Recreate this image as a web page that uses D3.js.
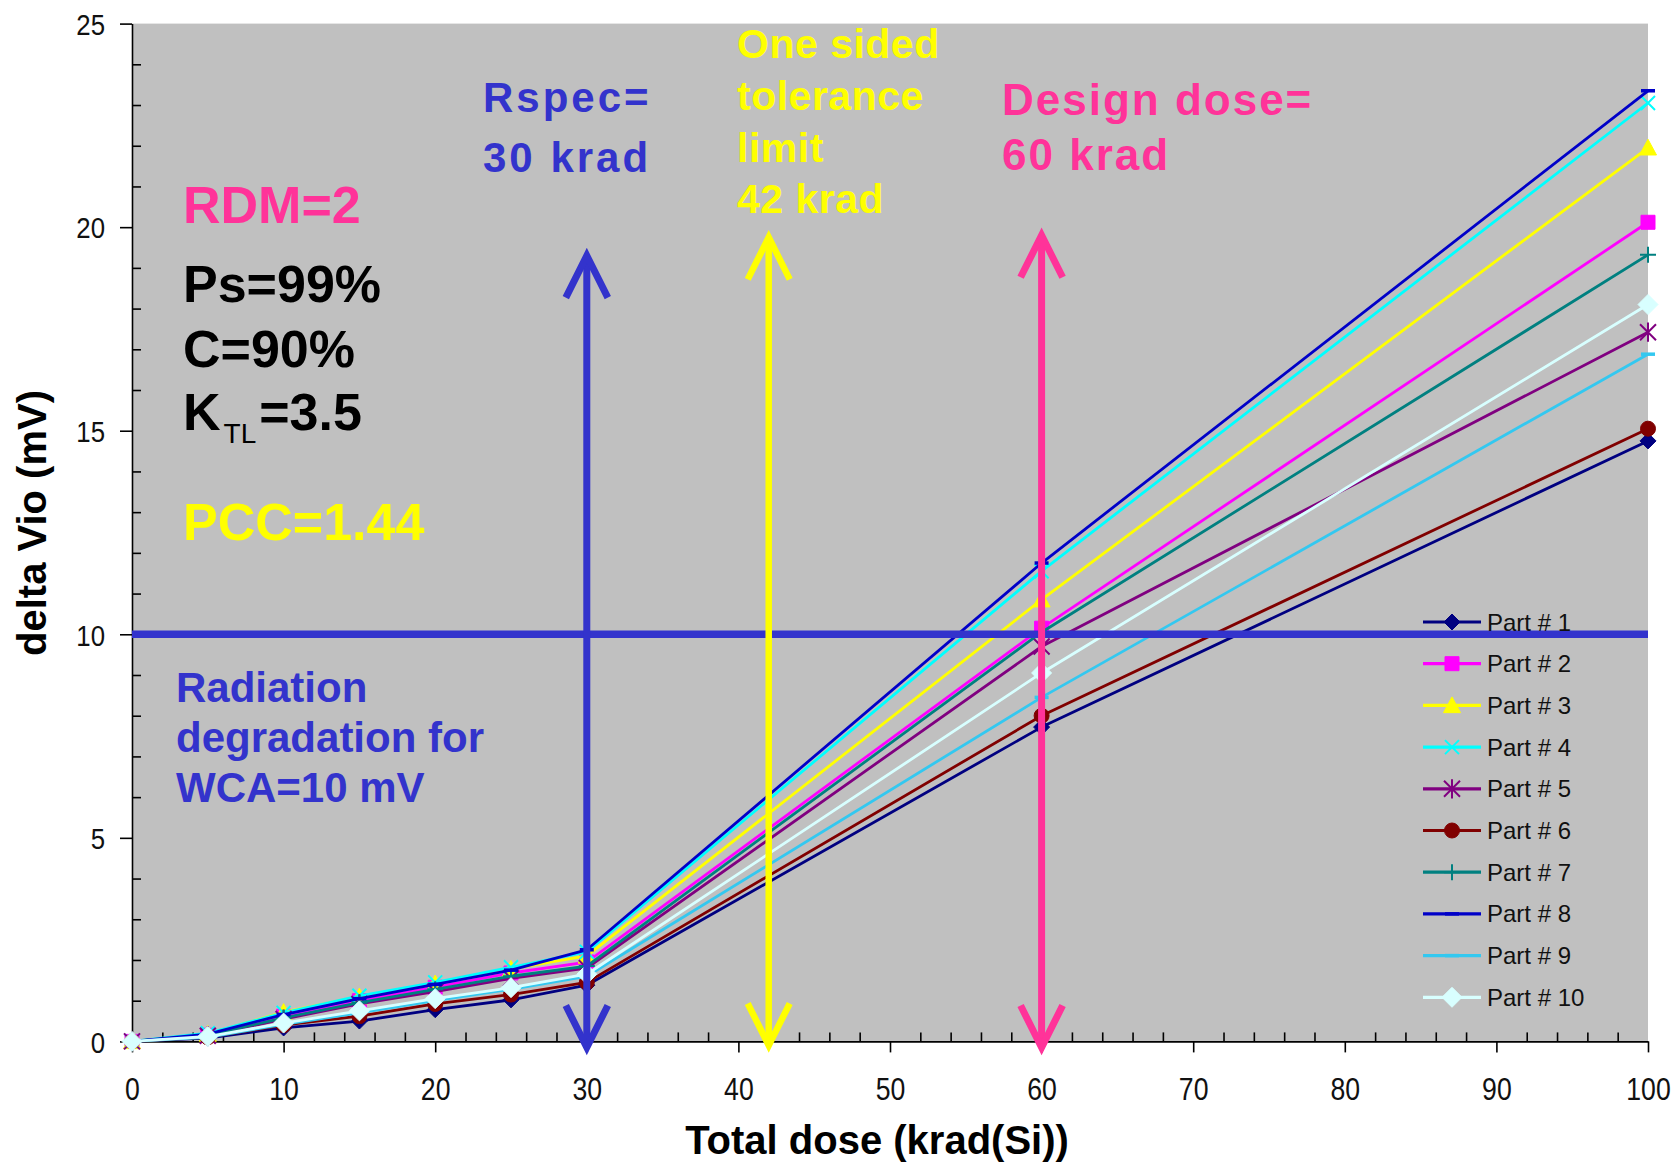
<!DOCTYPE html>
<html>
<head>
<meta charset="utf-8">
<script src="https://cdn.jsdelivr.net/npm/d3@7"></script>
<style>
  html, body { margin: 0; padding: 0; background: #fff; }
  svg { display: block; }
  text { font-family: "Liberation Sans", Arial, Helvetica, sans-serif; }
</style>
</head>
<body>
<svg id="chart" width="1680" height="1168"></svg>
<script>
// Total dose steps, krad(Si)
const doses = [0, 5, 10, 15, 20, 25, 30, 60, 100];

// delta Vio (mV) per part at each dose step
const part1  = [0, 0.08, 0.33, 0.50, 0.78, 1.02, 1.38, 7.72, 14.75];
const part2  = [0, 0.15, 0.62, 1.00, 1.33, 1.68, 1.95, 10.15, 20.12];
const part3  = [0, 0.18, 0.72, 1.10, 1.42, 1.78, 2.10, 10.85, 21.95];
const part4  = [0, 0.20, 0.70, 1.12, 1.45, 1.82, 2.20, 11.55, 23.05];
const part5  = [0, 0.14, 0.55, 0.92, 1.22, 1.55, 1.80, 9.70, 17.42];
const part6  = [0, 0.10, 0.40, 0.62, 0.92, 1.15, 1.45, 8.00, 15.05];
const part7  = [0, 0.15, 0.58, 0.95, 1.28, 1.60, 1.85, 10.05, 19.32];
const part8  = [0, 0.18, 0.66, 1.05, 1.40, 1.75, 2.25, 11.75, 23.35];
const part9  = [0, 0.10, 0.42, 0.70, 1.00, 1.28, 1.60, 8.45, 16.88];
const part10 = [0, 0.12, 0.45, 0.75, 1.05, 1.32, 1.65, 9.05, 18.10];

const partNames = ["Part # 1", "Part # 2", "Part # 3", "Part # 4", "Part # 5",
                   "Part # 6", "Part # 7", "Part # 8", "Part # 9", "Part # 10"];
const partValues = [part1, part2, part3, part4, part5, part6, part7, part8, part9, part10];

// Axis ticks
const xTicks = [0, 10, 20, 30, 40, 50, 60, 70, 80, 90, 100];
const yTicks = [0, 5, 10, 15, 20, 25];

// Reference levels
const wcaLevel = 10;        // mV
const rspecDose = 30;       // krad
const toleranceDose = 42;   // krad
const designDose = 60;      // krad

// Annotation text
const rspecLines = ["Rspec=", "30 krad"];
const toleranceLines = ["One sided", "tolerance", "limit", "42 krad"];
const designLines = ["Design dose=", "60 krad"];
const wcaLines = ["Radiation", "degradation for", "WCA=10 mV"];

// ---- styles ----
const partColors = ["#000080", "#ff00ff", "#ffff00", "#00ffff", "#800080",
                    "#800000", "#008080", "#0000c8", "#33c8f0", "#d8ffff"];
const partMarkers = ["diamond", "square", "triangle", "x", "star",
                     "circle", "plus", "dash", "dash", "diamond"];
const markerSize = [8, 7, 8.5, 7, 8, 7.5, 8, 7, 7, 10];

const BLUE = "#3333cc", PINK = "#ff3399", YELLOW = "#ffff00";
const TICK_SQUEEZE = 0.86;   // tick labels are set slightly condensed

const svg = d3.select("#chart");
const plot = { left: 132, right: 1648, top: 23.6, bottom: 1041.4 };

const x = d3.scaleLinear().domain([0, 100]).range([plot.left, plot.right]);
const y = d3.scaleLinear().domain([0, 25]).range([plot.bottom, plot.top]);

// plot area
svg.append("rect")
  .attr("x", plot.left).attr("y", plot.top)
  .attr("width", plot.right - plot.left).attr("height", plot.bottom - plot.top)
  .attr("fill", "#c0c0c0");

// ---- axes ----
const axisStyle = g => {
  g.selectAll("path.domain").attr("stroke", "#000").attr("stroke-width", 1.6);
  g.selectAll(".tick line").attr("stroke", "#000").attr("stroke-width", 1.6);
};

// minor ticks point inward
const xMinor = d3.range(0, 101, 2).filter(v => v % 10 !== 0);
svg.append("g")
  .attr("transform", `translate(0,${plot.bottom})`)
  .call(d3.axisBottom(x).tickValues(xMinor).tickSize(-9).tickFormat(""))
  .call(g => g.select("path.domain").remove())
  .call(axisStyle);

const yMinor = d3.range(0, 26, 1).filter(v => v % 5 !== 0);
svg.append("g")
  .attr("transform", `translate(${plot.left},0)`)
  .call(d3.axisLeft(y).tickValues(yMinor).tickSize(-9).tickFormat(""))
  .call(g => g.select("path.domain").remove())
  .call(axisStyle);

const xAxis = svg.append("g")
  .attr("transform", `translate(0,${plot.bottom})`)
  .call(d3.axisBottom(x).tickValues(xTicks).tickSizeInner(11).tickSizeOuter(0))
  .call(axisStyle);
xAxis.selectAll("text")
  .attr("y", 59).attr("dy", 0)
  .attr("transform", `scale(${TICK_SQUEEZE},1)`)
  .attr("font-size", 31).attr("fill", "#111")
  .style("font-family", "'Liberation Sans', Arial, sans-serif");

const yAxis = svg.append("g")
  .attr("transform", `translate(${plot.left},0)`)
  .call(d3.axisLeft(y).tickValues(yTicks).tickSizeInner(12).tickSizeOuter(0))
  .call(axisStyle);
yAxis.selectAll("text")
  .attr("x", -27 / TICK_SQUEEZE).attr("dy", "0.36em")
  .attr("transform", `scale(${TICK_SQUEEZE},1)`)
  .attr("font-size", 30).attr("fill", "#111")
  .style("font-family", "'Liberation Sans', Arial, sans-serif");

// ---- series ----
function markerPath(type, r) {
  switch (type) {
    case "diamond":  return `M0,${-r}L${r},0L0,${r}L${-r},0Z`;
    case "square":   return `M${-r},${-r}h${2 * r}v${2 * r}h${-2 * r}Z`;
    case "triangle": return `M0,${-r}L${r},${r * 0.85}L${-r},${r * 0.85}Z`;
    case "circle":   return d3.symbol(d3.symbolCircle, Math.PI * r * r)();
    case "x":        return `M${-r},${-r}L${r},${r}M${-r},${r}L${r},${-r}`;
    case "star":     return `M${-r},${-r}L${r},${r}M${-r},${r}L${r},${-r}M0,${-r * 1.2}V${r * 1.2}`;
    case "plus":     return `M${-r},0H${r}M0,${-r}V${r}`;
    case "dash":     return `M${-r},0H${r}`;
  }
}
const filledMarkers = new Set(["diamond", "square", "triangle", "circle"]);
function styleMarker(sel, i) {
  const filled = filledMarkers.has(partMarkers[i]);
  sel.attr("d", markerPath(partMarkers[i], markerSize[i]))
    .attr("fill", filled ? partColors[i] : "none")
    .attr("stroke", partColors[i])
    .attr("stroke-width", filled ? 1 : (partMarkers[i] === "dash" ? 3.5 : 2));
}

const line = d3.line().x(d => x(d.dose)).y(d => y(d.value));
const series = partValues.map((vals, i) => ({
  name: partNames[i],
  points: doses.map((d, k) => ({ dose: d, value: vals[k] }))
}));

const seriesG = svg.append("g");
series.forEach((s, i) => {
  const g = seriesG.append("g");
  g.append("path")
    .datum(s.points)
    .attr("d", line)
    .attr("fill", "none")
    .attr("stroke", partColors[i])
    .attr("stroke-width", 2.8)
    .attr("stroke-linejoin", "round");
  g.selectAll("path.mk")
    .data(s.points)
    .join("path")
    .attr("class", "mk")
    .attr("transform", d => `translate(${x(d.dose)},${y(d.value)})`)
    .each(function () { styleMarker(d3.select(this), i); });
});

// ---- reference lines and arrows ----
svg.append("line")
  .attr("x1", x(0)).attr("x2", x(100))
  .attr("y1", y(wcaLevel)).attr("y2", y(wcaLevel))
  .attr("stroke", BLUE).attr("stroke-width", 7.5);

function doubleArrow(dose, topVal, bottomVal, color, w) {
  const X = x(dose), yt = y(topVal), yb = y(bottomVal);
  const g = svg.append("g")
    .attr("stroke", color).attr("stroke-width", w).attr("fill", "none")
    .attr("stroke-linejoin", "miter");
  g.append("line").attr("x1", X).attr("x2", X).attr("y1", yt + 3).attr("y2", yb - 3);
  g.append("path").attr("d", `M${X - 21},${yt + 42}L${X},${yt}L${X + 21},${yt + 42}`);
  g.append("path").attr("d", `M${X - 21},${yb - 42}L${X},${yb}L${X + 21},${yb - 42}`);
}
doubleArrow(rspecDose, 19.3, -0.15, BLUE, 7);
doubleArrow(toleranceDose, 19.75, -0.1, YELLOW, 6.5);
doubleArrow(designDose, 19.8, -0.15, PINK, 7);

// ---- annotation text ----
function textBlock(lines, x0, baselines, size, color, spacing) {
  lines.forEach((t, k) => {
    svg.append("text")
      .attr("x", x0).attr("y", baselines[k])
      .attr("font-size", size).attr("font-weight", "bold")
      .attr("letter-spacing", spacing || 0)
      .attr("fill", color)
      .text(t);
  });
}
textBlock(rspecLines, 483, [112, 172], 42, BLUE, 3);
textBlock(toleranceLines, 737, [58, 110, 162, 213], 41, YELLOW, 0.5);
textBlock(designLines, 1002, [115, 170], 44, PINK, 2);
textBlock(wcaLines, 176, [702, 752, 802], 42, BLUE, 0);

textBlock(["RDM=2"], 183, [223], 52, PINK, 0);
textBlock(["Ps=99%", "C=90%"], 183, [302, 367], 52, "#000", 0);
const kt = svg.append("text")
  .attr("x", 183).attr("y", 430)
  .attr("font-size", 52).attr("font-weight", "bold").attr("fill", "#000");
kt.append("tspan").text("K");
kt.append("tspan").attr("font-size", 28).attr("font-weight", "normal")
  .attr("dx", 3).attr("dy", 13).text("TL");
kt.append("tspan").attr("dx", 3).attr("dy", -13).text("=3.5");
textBlock(["PCC=1.44"], 183, [540], 52, YELLOW, 0);

// ---- axis titles ----
svg.append("text")
  .attr("transform", "translate(46,523) rotate(-90)")
  .attr("text-anchor", "middle")
  .attr("font-size", 40).attr("font-weight", "bold").attr("fill", "#000")
  .text("delta Vio (mV)");
svg.append("text")
  .attr("x", 877).attr("y", 1154)
  .attr("text-anchor", "middle")
  .attr("font-size", 40).attr("font-weight", "bold").attr("fill", "#000")
  .text("Total dose (krad(Si))");

// ---- legend ----
const legend = svg.append("g");
series.forEach((s, i) => {
  const ly = 622 + i * 41.7;
  const g = legend.append("g").attr("transform", `translate(0,${ly})`);
  g.append("line").attr("x1", 1423).attr("x2", 1481).attr("y1", 0).attr("y2", 0)
    .attr("stroke", partColors[i]).attr("stroke-width", 3.2);
  g.append("path").attr("transform", "translate(1452,0)")
    .call(sel => styleMarker(sel, i));
  g.append("text").attr("x", 1487).attr("y", 8.5)
    .attr("font-size", 24).attr("fill", "#111")
    .text(s.name);
});
</script>
</body>
</html>
